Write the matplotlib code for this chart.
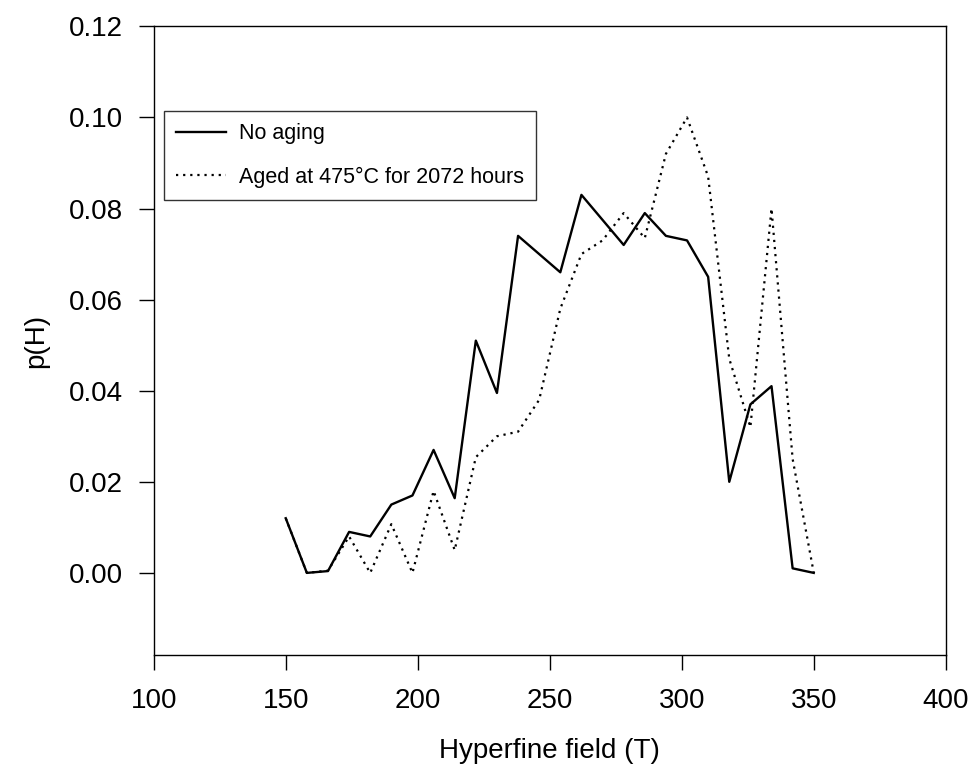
import numpy as np
import matplotlib
matplotlib.use("Agg")
import matplotlib.pyplot as plt

plt.rcParams['font.family'] = ['Liberation Sans', 'DejaVu Sans']

# hyperfine field distributions (T, probability)
field_unaged = [150, 158, 166, 174, 182, 190, 198, 206, 214, 222, 230, 238,
                254, 262, 278, 286, 294, 302, 310, 318, 326, 334, 342, 350]
p_unaged = [0.012, 0.000, 0.0004, 0.009, 0.008, 0.015, 0.017, 0.027, 0.0164,
            0.051, 0.0395, 0.074, 0.066, 0.083, 0.072, 0.079, 0.074, 0.073,
            0.065, 0.020, 0.037, 0.041, 0.001, 0.000]

field_aged = [150, 158, 166, 174, 182, 190, 198, 206, 214, 222, 230, 238, 246,
              254, 262, 270, 278, 286, 294, 302, 310, 318, 326, 334, 342, 350]
p_aged = [0.012, 0.000, 0.0005, 0.008, 0.000, 0.0107, 0.000, 0.018, 0.005,
          0.0254, 0.030, 0.031, 0.038, 0.058, 0.070, 0.073, 0.079, 0.0735,
          0.092, 0.100, 0.087, 0.047, 0.032, 0.080, 0.025, 0.000]

labels = ['No aging', 'Aged at 475°C for 2072 hours']

fig = plt.figure(figsize=(9.73, 7.75), dpi=100)
ax = fig.add_axes([0.158, 0.155, 0.814, 0.811])

ax.plot(field_unaged, p_unaged, color='black', lw=1.7, label=labels[0])
ax.plot(field_aged, p_aged, color='black', lw=1.6, linestyle=(0, (1, 2.2)),
        label=labels[1])

ax.set_xlim(100, 400)
ax.set_ylim(-0.018, 0.12)
ax.set_xticks(np.arange(100, 401, 50))
ax.set_yticks(np.arange(0, 0.121, 0.02))
ax.set_yticklabels([f'{v:.2f}' for v in np.arange(0, 0.121, 0.02)])

ax.tick_params(axis='both', direction='out', length=11, width=1.0,
               labelsize=20, color='black')
ax.tick_params(axis='y', pad=11)
ax.tick_params(axis='x', pad=13)
for s in ax.spines.values():
    s.set_linewidth(1.0)

ax.set_xlabel('Hyperfine field (T)', fontsize=20, labelpad=17)
ax.set_ylabel('p(H)', fontsize=20, labelpad=14)

leg = ax.legend(loc='upper left', bbox_to_anchor=(0.0135, 0.865), fontsize=15.5,
                frameon=True, fancybox=False, edgecolor='black',
                handlelength=2.3, labelspacing=1.05, borderpad=0.55,
                handletextpad=0.6, borderaxespad=0)
leg.get_frame().set_linewidth(1.0)

fig.savefig('out.png', dpi=100)
